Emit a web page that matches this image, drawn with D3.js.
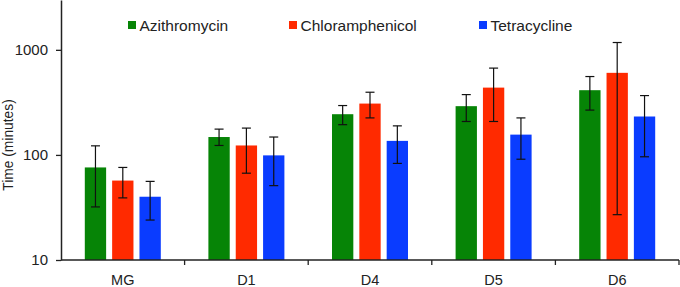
<!DOCTYPE html>
<html>
<head>
<meta charset="utf-8">
<script src="https://cdn.jsdelivr.net/npm/d3@7"></script>
<style>
  body { margin: 0; background: #fff; }
  svg { display: block; font-family: 'Liberation Sans', Arial, sans-serif; }
</style>
</head>
<body>
<div id="chart"></div>
<script>
const WIDTH = 680;
const HEIGHT = 287;
const margin = { top: 0, right: 1, bottom: 27, left: 61 };

const categories = ['MG', 'D1', 'D4', 'D5', 'D6'];
const seriesNames = ['Azithromycin', 'Chloramphenicol', 'Tetracycline'];
const colors = ['#068406', '#ff2a00', '#0a3cff'];

// bar heights (minutes), per category
const azithromycin = [76, 148, 244, 291, 413];
const chloramphenicol = [57, 123, 308, 437, 604];
const tetracycline = [40, 99, 136, 156, 232];

// error bar ends [low, high]
const azithromycinErr = [[32, 122], [123, 176], [194, 295], [208, 375], [267, 557]];
const chloramphenicolErr = [[39, 76], [67, 180], [225, 395], [208, 670], [27, 1174]];
const tetracyclineErr = [[24, 56], [51, 148], [83, 189], [91, 225], [96, 367]];

const yTicks = [10, 100, 1000];

const values = [azithromycin, chloramphenicol, tetracycline];
const errors = [azithromycinErr, chloramphenicolErr, tetracyclineErr];

const w = WIDTH - margin.left - margin.right;
const h = HEIGHT - margin.top - margin.bottom;

const svg = d3
  .select('#chart')
  .append('svg')
  .attr('width', WIDTH)
  .attr('height', HEIGHT)
  .append('g')
  .attr('transform', `translate(${margin.left}, ${margin.top})`);

const x = d3.scaleBand().domain(categories).range([0, w]).paddingInner(0).paddingOuter(0);
const x1 = d3.scaleBand().domain(seriesNames).range([x.bandwidth() / 2 - 38, x.bandwidth() / 2 + 38]).paddingInner(0.22);
const y = d3.scaleLog().domain([10, 2980]).range([h, 0]);

// bars
const groups = svg
  .selectAll('g.series')
  .data(seriesNames)
  .join('g')
  .attr('class', 'series')
  .attr('fill', (d, i) => colors[i]);

groups
  .selectAll('rect')
  .data((s, i) => categories.map((c, j) => ({ s, c, v: values[i][j], e: errors[i][j] })))
  .join('rect')
  .attr('x', (d) => x(d.c) + x1(d.s))
  .attr('width', x1.bandwidth())
  .attr('y', (d) => y(d.v))
  .attr('height', (d) => h - y(d.v));

// error bars
const errG = svg.append('g').attr('stroke', '#111').attr('stroke-width', 1.2).attr('fill', 'none');
seriesNames.forEach((s, i) => {
  categories.forEach((c, j) => {
    const cx = x(c) + x1(s) + x1.bandwidth() / 2;
    const [lo, hi] = errors[i][j];
    errG.append('line').attr('x1', cx).attr('x2', cx).attr('y1', y(lo)).attr('y2', y(hi));
    errG.append('line').attr('x1', cx - 4.5).attr('x2', cx + 4.5).attr('y1', y(lo)).attr('y2', y(lo));
    errG.append('line').attr('x1', cx - 4.5).attr('x2', cx + 4.5).attr('y1', y(hi)).attr('y2', y(hi));
  });
});

// y axis
const yAxis = svg
  .append('g')
  .attr('class', 'y-axis')
  .call(d3.axisLeft(y).tickValues(yTicks).tickFormat(d3.format('d')).tickSize(5).tickSizeOuter(0));
yAxis.select('.domain').attr('stroke', '#222').attr('stroke-width', 1.5);
yAxis.selectAll('.tick line').attr('stroke', '#222').attr('stroke-width', 1.3);
yAxis.selectAll('.tick text').attr('font-size', 15).attr('fill', '#222').attr('x', -13)
  .attr('font-family', "'Liberation Sans', Arial, sans-serif");

// x axis
const xAxisG = svg.append('g').attr('transform', `translate(0, ${h})`);
xAxisG.append('line').attr('x1', 0).attr('x2', w).attr('stroke', '#222').attr('stroke-width', 1.5);
xAxisG
  .selectAll('line.sep')
  .data(d3.range(1, categories.length + 1))
  .join('line')
  .attr('class', 'sep')
  .attr('x1', (i) => i * x.step())
  .attr('x2', (i) => i * x.step())
  .attr('y1', 0)
  .attr('y2', 5)
  .attr('stroke', '#222')
  .attr('stroke-width', 1.3);
xAxisG
  .selectAll('text')
  .data(categories)
  .join('text')
  .attr('x', (d) => x(d) + x.bandwidth() / 2)
  .attr('y', 24.5)
  .attr('text-anchor', 'middle')
  .attr('font-size', 14.5)
  .attr('fill', '#222')
  .text((d) => d);

// y label
svg
  .append('text')
  .attr('transform', `translate(${-48}, ${145}) rotate(-90)`)
  .attr('text-anchor', 'middle')
  .attr('font-size', 13.8)
  .attr('fill', '#222')
  .text('Time (minutes)');

// legend
const legendX = [67, 228, 418];
const legend = svg
  .selectAll('g.legend')
  .data(seriesNames)
  .join('g')
  .attr('class', 'legend')
  .attr('transform', (d, i) => `translate(${legendX[i]}, 20)`);
legend.append('rect').attr('width', 8).attr('height', 8).attr('y', 1).attr('fill', (d, i) => colors[i]);
legend
  .append('text')
  .attr('x', 11.5)
  .attr('y', 10.5)
  .attr('font-size', 15.5)
  .attr('fill', '#222')
  .text((d) => d);
</script>
</body>
</html>
